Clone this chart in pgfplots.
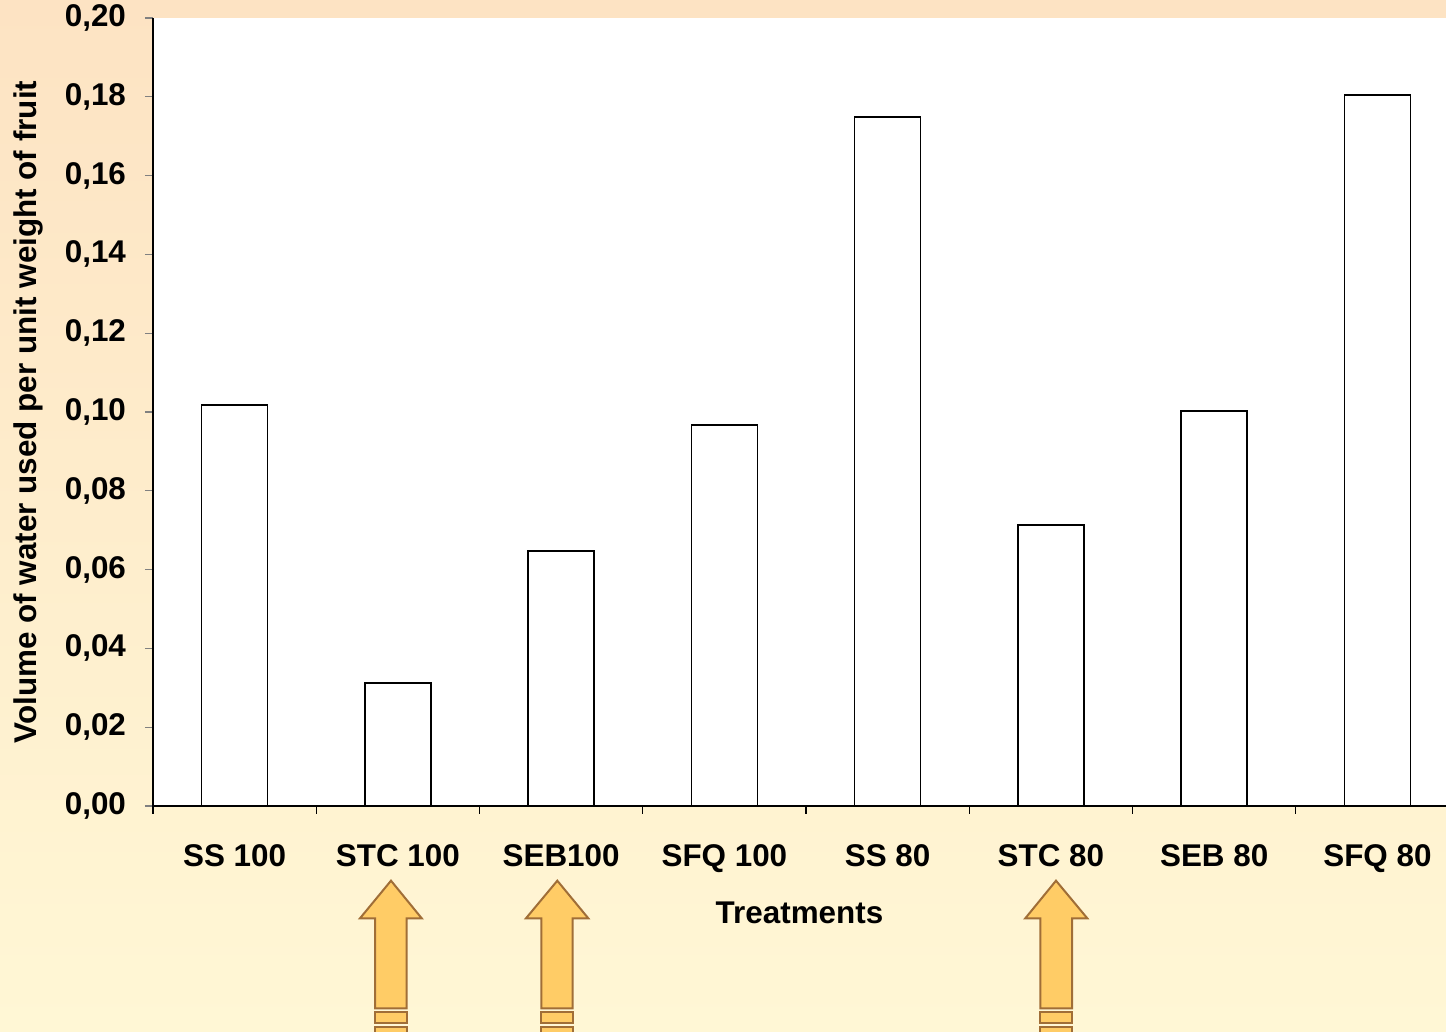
\documentclass[border=0pt]{standalone}
\usepackage{fontspec}
\setmainfont{Liberation Sans}
\usepackage{pgfplots}
\pgfplotsset{compat=1.18}

\definecolor{bgtop}{RGB}{253,227,195}
\definecolor{bgbot}{RGB}{255,247,213}
\definecolor{arrfill}{RGB}{255,204,102}
\definecolor{arrline}{RGB}{160,110,55}

% up arrow: tip x, head left, head right, shaft left, shaft right (pt)
\newcommand{\uparr}[5]{%
  \filldraw[fill=arrfill,draw=arrline,line width=1pt]
    (#1pt,-37.35pt) -- (#3pt,-56.15pt) -- (#5pt,-56.15pt) -- (#5pt,-101.15pt)
    -- (#4pt,-101.15pt) -- (#4pt,-56.15pt) -- (#2pt,-56.15pt) -- cycle;
  \filldraw[fill=arrfill,draw=arrline,line width=1pt]
    (#4pt,-103.15pt) rectangle (#5pt,-108.35pt);
  \filldraw[fill=arrfill,draw=arrline,line width=1pt]
    (#4pt,-110.35pt) rectangle (#5pt,-118pt);
}

\begin{document}
\begin{tikzpicture}
\shade[top color=bgtop,bottom color=bgbot] (-76.5pt,-113pt) rectangle (646.5pt,403pt);
\begin{axis}[
  at={(0,0)}, anchor=south west,
  scale only axis, width=646.5pt, height=394pt,
  axis background/.style={fill=white},
  axis x line*=bottom, axis y line*=left,
  axis line style={line width=0.8pt},
  font=\fontsize{15.7}{18}\selectfont\bfseries,
  xmin=-0.5, xmax=7.42, ymin=0, ymax=0.2,
  ytick={0,0.02,0.04,0.06,0.08,0.10,0.12,0.14,0.16,0.18,0.20},
  /pgf/number format/use comma,
  /pgf/number format/fixed,
  /pgf/number format/fixed zerofill,
  /pgf/number format/precision=2,
  /pgf/number format/assume math mode=true,
  yticklabel style={xshift=-6pt},
  xtick={0,...,7},
  xticklabels={SS 100,STC 100,SEB100,SFQ 100,SS 80,STC 80,SEB 80,SFQ 80},
  xticklabel style={yshift=-12pt},
  x tick style={draw=none},
  extra x ticks={-0.5,0.5,1.5,2.5,3.5,4.5,5.5,6.5},
  extra x tick labels={},
  extra x tick style={x tick style={draw=black,line width=0.6pt},major tick length=4pt},
  tick align=outside, major tick length=4pt,
  y tick style={line width=0.6pt},
  xlabel={Treatments},
  xlabel style={at={(rel axis cs:0.5,0)}, anchor=center, yshift=-53.5pt},
  ylabel={Volume of water used per unit weight of fruit},
  ylabel style={at={(rel axis cs:0,0.5)}, anchor=center, yshift=62.5pt},
  ybar, bar width=33pt,
]
\addplot[fill=white, draw=black, line width=0.75pt] coordinates {
  (0,0.1018) (1,0.0312) (2,0.0647) (3,0.0967)
  (4,0.1749) (5,0.0713) (6,0.1003) (7,0.1805)
};
\end{axis}
\uparr{119}{103.5}{134.35}{111}{126.85}
\uparr{202.15}{186.5}{217.65}{194.15}{209.85}
\uparr{451.5}{436.15}{467.15}{443.65}{459.5}
\pgfresetboundingbox
\path[use as bounding box] (-76.5pt,-113pt) rectangle (646.5pt,403pt);
\end{tikzpicture}
\end{document}
